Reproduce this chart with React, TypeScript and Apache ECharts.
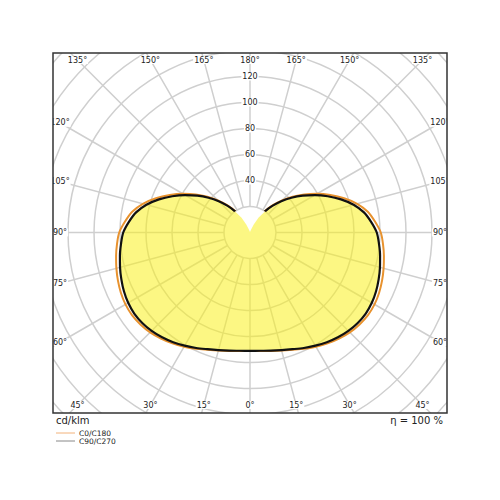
import React, { useEffect, useRef } from "react";
import * as echarts from "echarts";

// Photometric angles (gamma, from nadir), degrees
const GAMMA = [0, 5, 10, 15, 20, 25, 30, 35, 40, 45, 50, 55, 60, 65, 70, 75, 80, 85, 90,
  95, 100, 105, 110, 115, 120, 125, 130, 135, 140, 145, 150, 155, 160, 165, 170, 175, 180];

// Luminous intensity, cd/klm
const C90_C270 = [91, 91.3, 92.2, 93.6, 95.5, 98, 100.5, 103, 105.2, 107, 108.2, 108.7, 108.2, 107,
  105.3, 103.5, 101.6, 99.6, 97.5, 93.5, 89, 82.5, 74.5, 66, 57.6, 49.5, 41.6, 34, 26.7, 19.6, 13,
  6.8, 2.2, 0.9, 0.6, 0.5, 0.5];
const C0_C180 = [91.2, 91.5, 92.5, 94, 96, 98.7, 101.4, 104.1, 106.5, 108.6, 110, 110.8, 110.6, 109.6,
  108.1, 106.4, 104.6, 102.7, 100.6, 96.5, 92, 85.3, 77, 68.2, 59.5, 51, 42.8, 35, 27.4, 20.1, 13.4,
  7, 2.3, 1, 0.7, 0.6, 0.6];

// Angle tick labels (gamma values), radius tick labels
const ANGLE_TICKS = [0, 15, 30, 45, 60, 75, 90, 105, 120, 135, 150, 165, 180];
const RADIUS_LABELS = [40, 60, 80, 100, 120];

const SERIES_NAMES = ["C0/C180", "C90/C270"];
const UNIT_TEXT = "cd/klm";
const EFF_TEXT = "η = 100 %";

const FONT = "DejaVu Sans";
const CX = 250;
const CY = 232.5;
const R_MIN = 20;
const R_MAX = 210;
const PX_PER_UNIT = 1.3;
const FRAME = { x: 53, y: 53, w: 394, h: 360 };

// gamma on right side -> angle 180 - g ; left side -> 180 + g
function fullCurve(values: number[]): number[][] {
  const pts: number[][] = [];
  for (let i = GAMMA.length - 1; i >= 0; i--) pts.push([values[i], 180 - GAMMA[i]]);
  for (let i = 1; i < GAMMA.length; i++) pts.push([values[i], 180 + GAMMA[i]]);
  return pts;
}

function angleLabels(): any[] {
  const out: any[] = [];
  const inset = { x0: 60, x1: 440, y0: 60, y1: 405 };
  const add = (g: number, side: number) => {
    const rad = (g * Math.PI) / 180;
    const dx = side * Math.sin(rad);
    const dy = Math.cos(rad);
    let t = Infinity;
    if (dx > 1e-9) t = Math.min(t, (inset.x1 - CX) / dx);
    if (dx < -1e-9) t = Math.min(t, (inset.x0 - CX) / dx);
    if (dy > 1e-9) t = Math.min(t, (inset.y1 - CY) / dy);
    if (dy < -1e-9) t = Math.min(t, (inset.y0 - CY) / dy);
    out.push({
      type: "text",
      z: 90,
      x: CX + dx * t,
      y: CY + dy * t,
      style: {
        text: g + "°",
        fontSize: 8,
        fontFamily: FONT,
        fill: "#222",
        align: "center",
        verticalAlign: "middle",
        backgroundColor: "#fff",
        padding: [0, 1],
      },
    });
  };
  ANGLE_TICKS.forEach((g) => {
    add(g, 1);
    if (g !== 0 && g !== 180) add(g, -1);
  });
  return out;
}

export default function App() {
  const ref = useRef<HTMLDivElement>(null);
  useEffect(() => {
    document.body.style.margin = "0";
    const chart = echarts.init(ref.current!, null, { renderer: "svg" });
    const blackPts = fullCurve(C90_C270);
    const orangePts = fullCurve(C0_C180);
    const mask = [
      { x: 0, y: 0, width: 500, height: FRAME.y },
      { x: 0, y: FRAME.y + FRAME.h, width: 500, height: 500 - FRAME.y - FRAME.h },
      { x: 0, y: 0, width: FRAME.x, height: 500 },
      { x: FRAME.x + FRAME.w, y: 0, width: 500 - FRAME.x - FRAME.w, height: 500 },
    ].map((s) => ({ type: "rect", z: 100, shape: s, style: { fill: "#fff" }, silent: true }));

    const option: any = {
      animation: false,
      backgroundColor: "#fff",
      polar: {
        center: [CX, CY],
        radius: [R_MIN * PX_PER_UNIT, R_MAX * PX_PER_UNIT],
      },
      angleAxis: {
        type: "value",
        min: 0,
        max: 360,
        interval: 15,
        startAngle: 90,
        clockwise: true,
        axisLine: { show: false },
        axisTick: { show: false },
        axisLabel: { show: false },
        splitLine: { show: true, lineStyle: { color: "#cfcfcf", width: 1.5 } },
      },
      radiusAxis: {
        type: "value",
        min: R_MIN,
        max: R_MAX,
        interval: 20,
        axisLine: { show: false },
        axisTick: { show: false },
        axisLabel: {
          formatter: (v: number) => (RADIUS_LABELS.indexOf(v) >= 0 ? String(v) : ""),
          margin: 0,
          align: "center",
          verticalAlign: "middle",
          fontSize: 8,
          fontFamily: FONT,
          color: "#222",
          backgroundColor: "#fff",
          padding: [0, 1],
        },
        splitLine: { show: true, lineStyle: { color: "#cfcfcf", width: 1.5 } },
      },
      series: [
        {
          type: "custom",
          coordinateSystem: "polar",
          data: [[R_MIN, 0]],
          z: 2,
          silent: true,
          clip: false,
          renderItem: (_params: any, api: any) => ({
            type: "polygon",
            shape: { points: blackPts.map((p) => api.coord(p)) },
            style: { fill: "rgba(250,240,30,0.55)", stroke: "none" },
          }),
        },
        {
          name: SERIES_NAMES[0],
          type: "line",
          coordinateSystem: "polar",
          data: orangePts,
          smooth: 0.3,
          symbol: "none",
          clip: false,
          z: 3,
          lineStyle: { color: "#e8922e", width: 2 },
        },
        {
          name: SERIES_NAMES[1],
          type: "line",
          coordinateSystem: "polar",
          data: blackPts,
          smooth: 0.3,
          symbol: "none",
          clip: false,
          z: 4,
          lineStyle: { color: "#111", width: 2.2 },
        },
      ],
      graphic: [
        ...angleLabels(),
        ...mask,
        {
          type: "rect",
          z: 110,
          shape: { x: FRAME.x, y: FRAME.y, width: FRAME.w, height: FRAME.h },
          style: { fill: "none", stroke: "#333", lineWidth: 1.5 },
        },
        {
          type: "text", z: 110, x: 56, y: 420,
          style: { text: UNIT_TEXT, fontSize: 10, fontFamily: FONT, fill: "#222", align: "left", verticalAlign: "middle" },
        },
        {
          type: "text", z: 110, x: 443, y: 420,
          style: { text: EFF_TEXT, fontSize: 10, fontFamily: FONT, fill: "#222", align: "right", verticalAlign: "middle" },
        },
        {
          type: "line", z: 110, shape: { x1: 56, y1: 433, x2: 75, y2: 433 },
          style: { stroke: "#f2b27a", lineWidth: 1 },
        },
        {
          type: "text", z: 110, x: 79, y: 433,
          style: { text: SERIES_NAMES[0], fontSize: 7.5, fontFamily: FONT, fill: "#222", align: "left", verticalAlign: "middle" },
        },
        {
          type: "line", z: 110, shape: { x1: 56, y1: 441, x2: 75, y2: 441 },
          style: { stroke: "#888", lineWidth: 1 },
        },
        {
          type: "text", z: 110, x: 79, y: 441,
          style: { text: SERIES_NAMES[1], fontSize: 7.5, fontFamily: FONT, fill: "#222", align: "left", verticalAlign: "middle" },
        },
      ],
    };
    chart.setOption(option);
    return () => chart.dispose();
  }, []);
  return <div ref={ref} style={{ position: "absolute", left: 0, top: 0, width: 500, height: 500 }} />;
}
